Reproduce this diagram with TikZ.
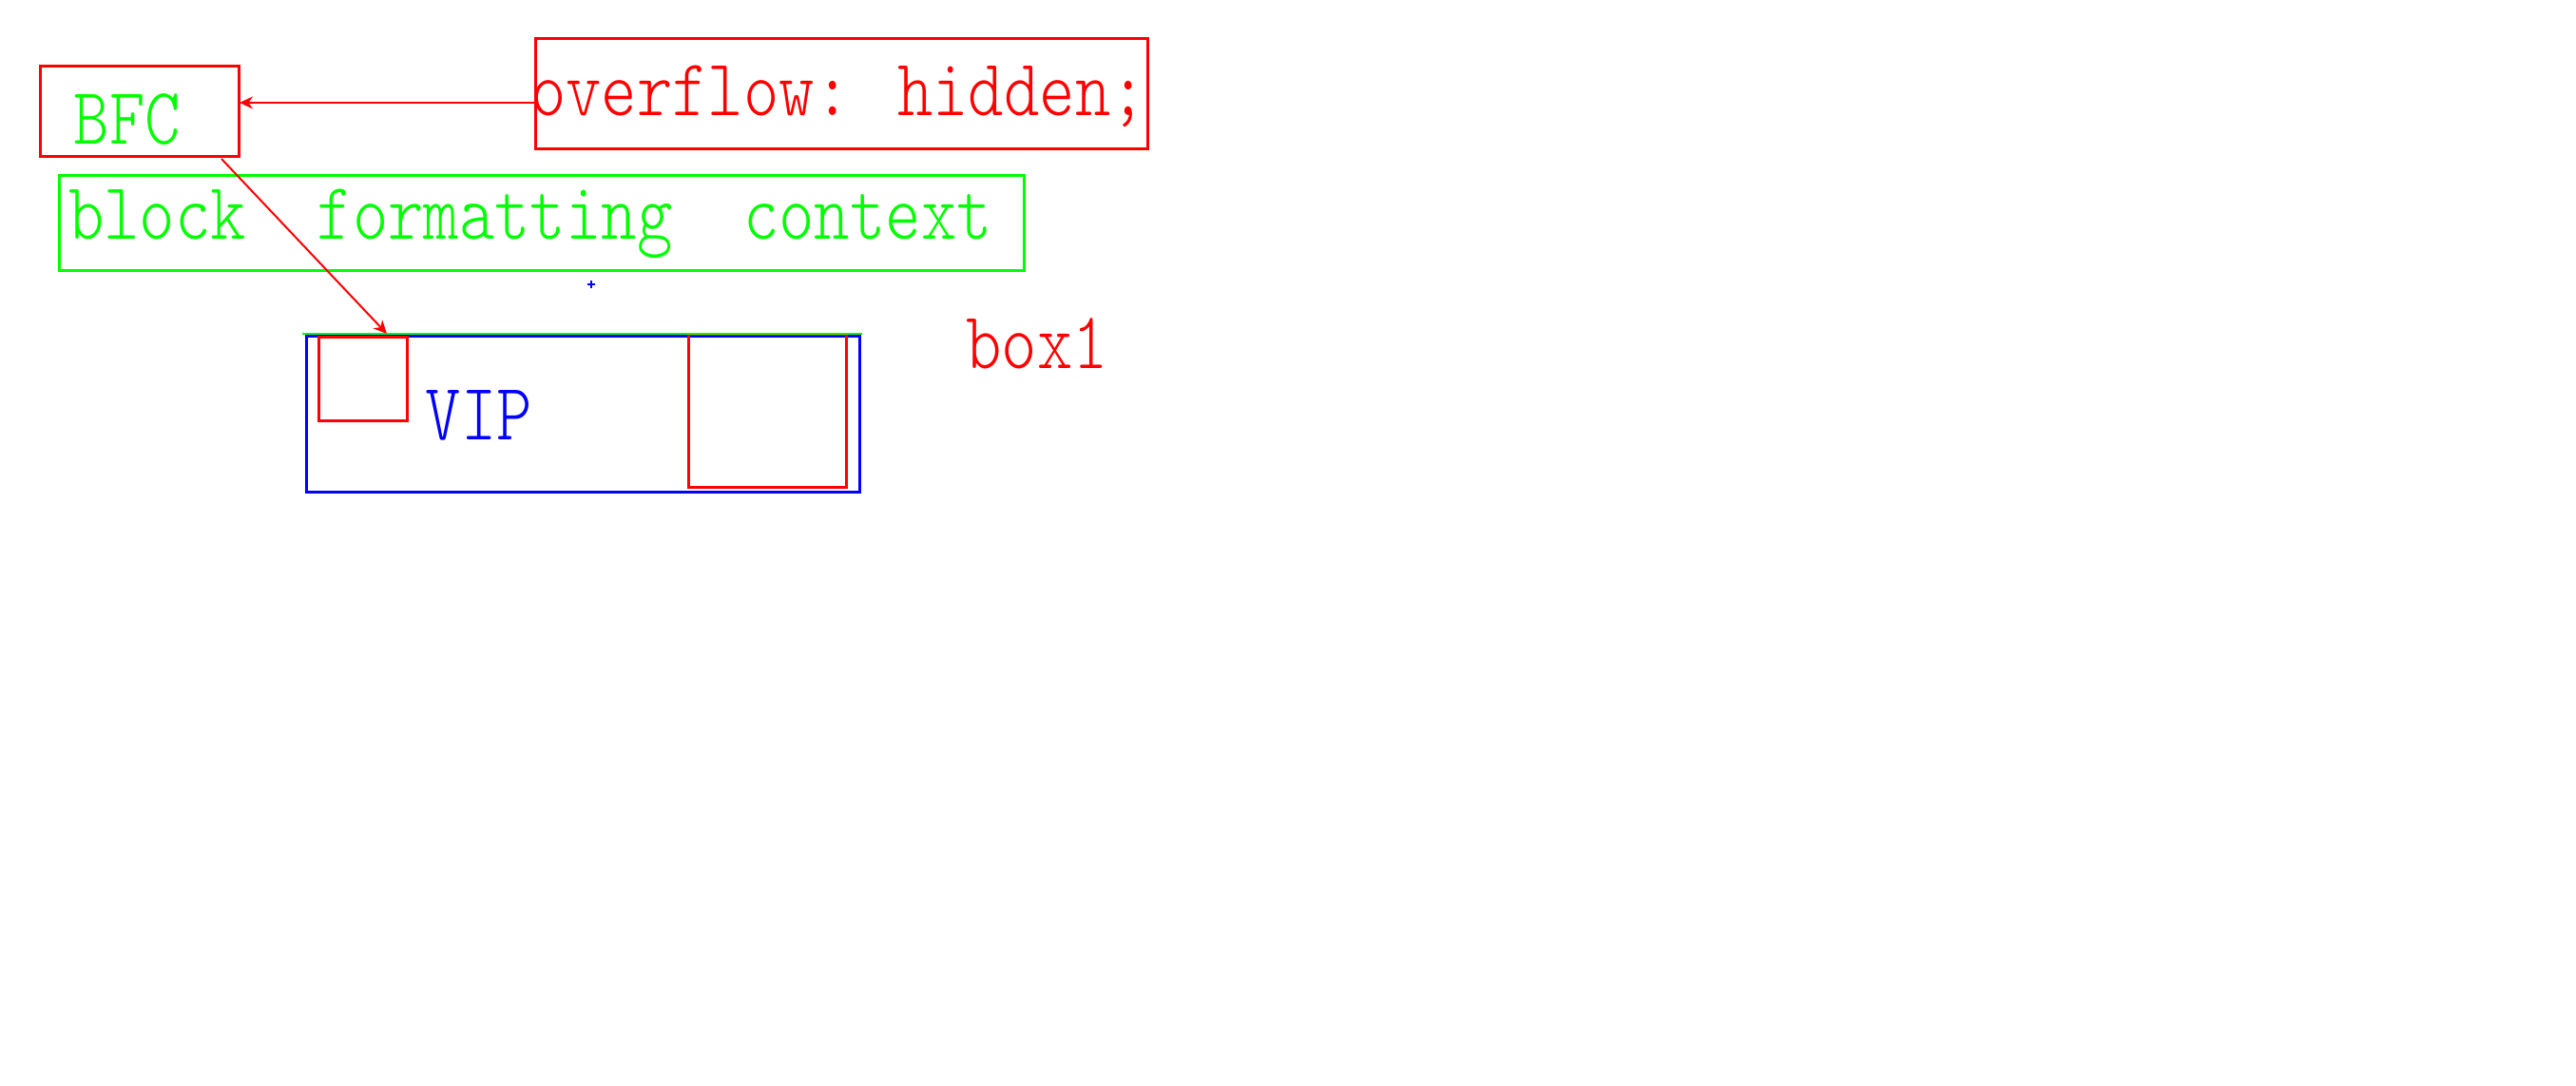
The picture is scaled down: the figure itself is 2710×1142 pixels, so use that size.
\documentclass[tikz,border=0pt]{standalone}
\usepackage{fontspec}
\usepackage{xcolor}
\usetikzlibrary{arrows.meta}
\newfontfamily\boxfont[FakeStretch=0.837]{lmmonolt10-regular.otf}
\definecolor{frameRed}{HTML}{FF0000}
\definecolor{contextGreen}{HTML}{00FF00}
\definecolor{vipBlue}{HTML}{0000FF}
\tikzset{
  frame box/.style={
    draw=frameRed,
    line width=0.3mm,
    inner sep=0pt,
    outer sep=0pt,
    anchor=north west
  },
  context box/.style={
    frame box,
    draw=contextGreen
  },
  vip box/.style={
    frame box,
    draw=vipBlue
  },
  box text/.style={
    font=\boxfont\fontsize{24.2pt}{28pt}\selectfont,
    inner sep=0pt,
    anchor=base
  },
  pointer edge/.style={
    -{Stealth[length=1.4mm,width=1.3mm]},
    draw=frameRed,
    line width=0.25mm
  }
}

\begin{document}
\begin{tikzpicture}[x=0.1mm,y=-0.1mm]
  \useasboundingbox (0,0) rectangle (2710,1142);

  \node[frame box,minimum width=21mm,minimum height=9.5mm] (bfc) at (42,69) {};
  \node[frame box,minimum width=64.4mm,minimum height=11.6mm] (overflow) at (563,40) {};
  \node[context box,minimum width=101.6mm,minimum height=10mm] (context) at (62,184) {};
  \node[vip box,minimum width=58.2mm,minimum height=16.4mm] (box1) at (322,353) {};
  \node[frame box,minimum width=9.3mm,minimum height=8.8mm] (small float) at (335,354) {};
  \node[frame box,minimum width=16.6mm,minimum height=16.1mm] (big float) at (724,351) {};

  \node[box text,text=contextGreen] (bfc label) at (134,151) {BFC};
  \node[box text,text=frameRed] (overflow label) at (882,121) {overflow: hidden;};
  \node[box text,text=contextGreen] (context label) at (558,251) {block\ \ formatting\ \ context};
  \node[box text,text=vipBlue] (vip label) at (504,462) {VIP};
  \node[box text,text=frameRed] (box1 label) at (1091,387) {box1};

  \draw[contextGreen,line width=0.15mm]
    ([xshift=-0.4mm,yshift=0.2mm]box1.north west) -- ([xshift=0.3mm,yshift=0.2mm]box1.north east);

  \coordinate (marker) at (622,299);
  \draw[vipBlue,line width=0.2mm]
    ([xshift=-0.43mm]marker) -- ([xshift=0.43mm]marker)
    ([yshift=-0.43mm]marker) -- ([yshift=0.43mm]marker);

  \draw[pointer edge] ([yshift=-1mm]overflow.west) -- ([yshift=-1mm]overflow.west -| bfc.east);
  \draw[pointer edge,line width=0.2mm]
    ([xshift=-1.9mm,yshift=-0.3mm]bfc.south east) -- ([xshift=2.55mm,yshift=0.3mm]small float.north);
\end{tikzpicture}
\end{document}
